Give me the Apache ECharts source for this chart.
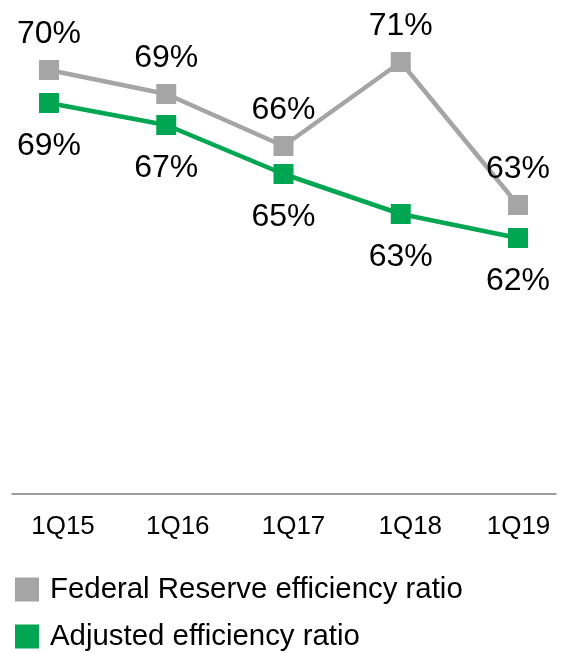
<!DOCTYPE html>
<html>
<head>
<meta charset="utf-8">
<script src="https://cdn.jsdelivr.net/npm/echarts@6/dist/echarts.min.js"></script>
<style>
html,body{margin:0;padding:0;background:#fff;}
#chart{width:567px;height:653px;}
</style>
</head>
<body>
<div id="chart"></div>
<script>
const categories = ['1Q15', '1Q16', '1Q17', '1Q18', '1Q19'];
const fedReserveRatio = [70.2, 69.0, 66.4, 70.6, 63.45];
const adjustedRatio = [68.55, 67.45, 65.0, 63.0, 61.8];
const seriesNames = ['Federal Reserve efficiency ratio', 'Adjusted efficiency ratio'];

const FONT = "'Liberation Sans', Arial, sans-serif";
const GRAY = '#A5A5A5';
const GREEN = '#00A651';
const labelShift = [28, 23, 20, 19, 1];

const chart = echarts.init(document.getElementById('chart'), null, {renderer: 'canvas'});
const rich = {};
labelShift.forEach((p, i) => {
  rich['s' + i] = {padding: [0, 0, 0, p], fontSize: 26, fontFamily: FONT, color: '#000'};
});

chart.setOption({
  animation: false,
  backgroundColor: '#fff',
  grid: [
    {left: 12, right: 11, top: 14, bottom: 159},
    {left: 49, right: 49, top: 14, bottom: 159}
  ],
  xAxis: [
    {gridIndex: 0, type: 'value', min: 0, max: 1, axisLine: {show: true, lineStyle: {color: '#808080', width: 1.5}},
     axisTick: {show: false}, axisLabel: {show: false}, splitLine: {show: false}},
    {gridIndex: 1, type: 'category', data: categories, boundaryGap: false,
     axisLine: {show: false}, axisTick: {show: false}, splitLine: {show: false},
     axisLabel: {interval: 0, margin: 20, formatter: (v, i) => '{s' + i + '|' + v + '}', rich: rich,
                 fontSize: 26, fontFamily: FONT, color: '#000'}}
  ],
  yAxis: [
    {gridIndex: 0, type: 'value', min: 0, max: 1, show: false},
    {gridIndex: 1, type: 'value', min: 49, max: 73, show: false}
  ],
  legend: [
    {data: [seriesNames[0]], orient: 'vertical', left: 10, top: 570, icon: 'rect', itemWidth: 24, itemHeight: 24,
     textStyle: {fontSize: 29.4, fontFamily: FONT, color: '#000', padding: [0, 0, 0, 6]}},
    {data: [seriesNames[1]], orient: 'vertical', left: 10, top: 617, icon: 'rect', itemWidth: 24, itemHeight: 24,
     textStyle: {fontSize: 29.4, fontFamily: FONT, color: '#000', padding: [0, 0, 0, 6]}}
  ],
  series: [
    {name: seriesNames[0], type: 'line', xAxisIndex: 1, yAxisIndex: 1, data: fedReserveRatio,
     symbol: 'rect', symbolSize: 20, color: GRAY,
     lineStyle: {width: 4.5, color: GRAY}, itemStyle: {color: GRAY},
     label: {show: true, position: 'top', distance: 10, fontSize: 32, fontFamily: FONT, color: '#000',
             formatter: p => Math.round(p.value) + '%'}},
    {name: seriesNames[1], type: 'line', xAxisIndex: 1, yAxisIndex: 1, data: adjustedRatio,
     symbol: 'rect', symbolSize: 20, color: GREEN,
     lineStyle: {width: 4.5, color: GREEN}, itemStyle: {color: GREEN},
     label: {show: true, position: 'bottom', distance: 17, fontSize: 32, fontFamily: FONT, color: '#000',
             formatter: p => Math.round(p.value) + '%'}}
  ]
});
</script>
</body>
</html>
